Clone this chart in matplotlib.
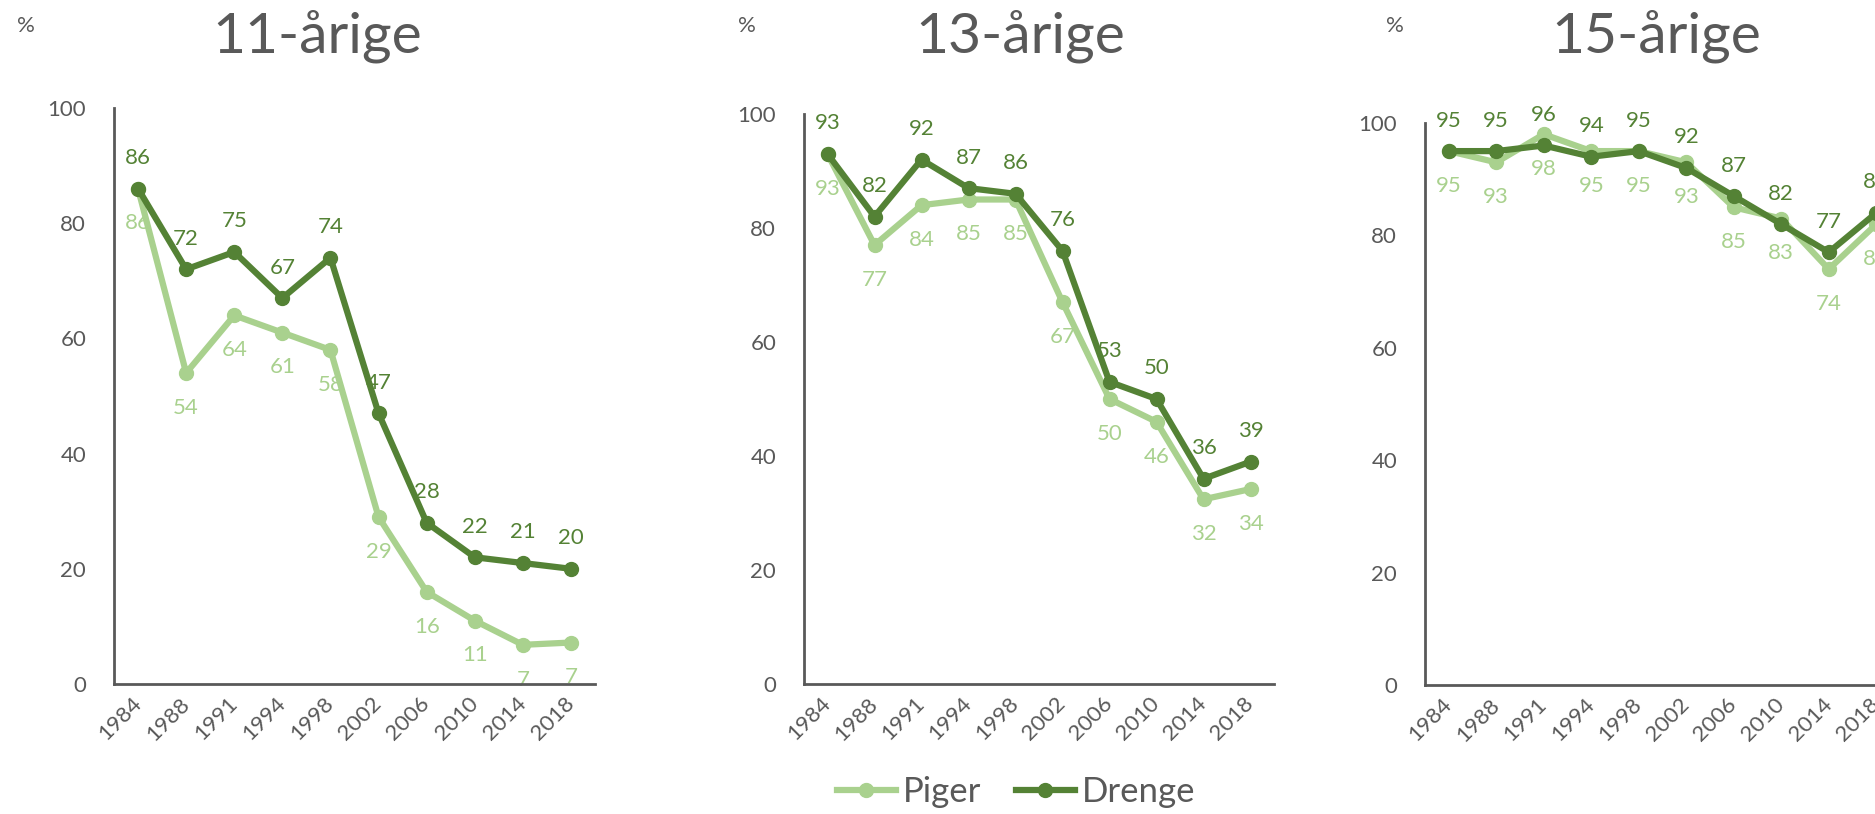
import matplotlib
matplotlib.use("Agg")
import matplotlib.pyplot as plt
from matplotlib.lines import Line2D

plt.rcParams['font.family'] = ['Lato', 'DejaVu Sans']

years = ["1984", "1988", "1991", "1994", "1998", "2002", "2006", "2010", "2014", "2018"]
titles = ["11-årige", "13-årige", "15-årige"]

piger_11 = [86, 54, 64, 61, 58, 29, 16, 11, 6.8, 7.2]
drenge_11 = [86, 72, 75, 67, 74, 47, 28, 22, 21, 20]
piger_13 = [93, 77, 84, 85, 85, 67, 50, 46, 32.4, 34.2]
drenge_13 = [93, 82, 92, 87, 86, 76, 53, 50, 36, 39]
piger_15 = [95, 93, 98, 95, 95, 93, 85, 83, 74, 82]
drenge_15 = [95, 95, 96, 94, 95, 92, 87, 82, 77, 84]

series = [(piger_11, drenge_11), (piger_13, drenge_13), (piger_15, drenge_15)]

C_LIGHT = "#A9D18E"
C_DARK = "#548235"
C_TEXT = "#595959"

W, H = 1875, 814
fig = plt.figure(figsize=(W / 100, H / 100), dpi=100)

# axes boxes in pixels: left, y0 (bottom), right, y100 (top)
boxes = [(114, 684, 595, 108), (804, 684, 1274, 114), (1425, 685, 1900, 123)]
title_x = [317, 1020, 1656]
pct_x = [26, 747, 1395]

for i, ((l, b, r, t), (pg, dr)) in enumerate(zip(boxes, series)):
    ax = fig.add_axes([l / W, 1 - b / H, (r - l) / W, (b - t) / H])
    x = list(range(len(years)))
    ax.plot(x, pg, color=C_LIGHT, lw=4.5, marker='o', ms=10, zorder=4, clip_on=False)
    ax.plot(x, dr, color=C_DARK, lw=4.5, marker='o', ms=10, zorder=5, clip_on=False)
    for xi, v in zip(x, pg):
        ax.annotate(f"{v:.0f}", (xi, v), xytext=(0, -25), textcoords='offset points',
                    ha='center', va='center', fontsize=16, color=C_LIGHT, zorder=2,
                    annotation_clip=False)
    for xi, v in zip(x, dr):
        ax.annotate(f"{v:.0f}", (xi, v), xytext=(0, 22), textcoords='offset points',
                    ha='center', va='center', fontsize=16, color=C_DARK, zorder=2,
                    annotation_clip=False)
    ax.set_xlim(-0.5, len(years) - 0.5)
    ax.set_ylim(0, 100)
    ax.set_yticks([0, 20, 40, 60, 80, 100])
    ax.set_xticks(x)
    ax.set_xticklabels(years, rotation=45, ha='right', va='center', rotation_mode='anchor')
    ax.tick_params(axis='both', length=0, labelsize=16, labelcolor=C_TEXT)
    ax.tick_params(axis='y', pad=20)
    ax.tick_params(axis='x', pad=12)
    for s in ['top', 'right']:
        ax.spines[s].set_visible(False)
    for s in ['left', 'bottom']:
        ax.spines[s].set_color(C_TEXT)
        ax.spines[s].set_linewidth(2)
        ax.spines[s].set_zorder(3)
    fig.text(title_x[i] / W, 1 - 36 / H, titles[i], ha='center', va='center',
             fontsize=41, color=C_TEXT)
    fig.text(pct_x[i] / W, 1 - 26 / H, "%", ha='center', va='center',
             fontsize=16, color=C_TEXT)

handles = [Line2D([], [], color=C_LIGHT, lw=4.5, marker='o', ms=10),
           Line2D([], [], color=C_DARK, lw=4.5, marker='o', ms=10)]
fig.legend(handles, ["Piger", "Drenge"], loc='center', bbox_to_anchor=(1016 / W, 1 - 792 / H),
           ncol=2, frameon=False, fontsize=25, labelcolor=C_TEXT, handlelength=1.7,
           handletextpad=0.2, columnspacing=1.0)

fig.savefig("out.png", dpi=100)
